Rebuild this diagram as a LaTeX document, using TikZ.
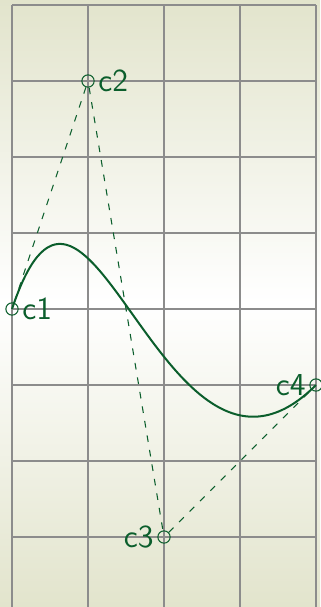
\documentclass[tikz,border=0pt]{standalone}
\definecolor{dkgreen}{HTML}{0B5E2C}
\definecolor{bgolive}{HTML}{E2E4CC}
\tikzset{
  ctrl/.style={circle,draw=dkgreen,thin,inner sep=0pt,minimum size=4.6pt},
  lbl/.style={text=dkgreen,font=\sffamily\fontsize{12}{14}\selectfont,inner sep=1.2pt},
  helper/.style={draw=dkgreen,thin,dash pattern=on 2.5pt off 3pt},
  curve/.style={draw=dkgreen,line width=0.75pt}
}
\begin{document}
\begin{tikzpicture}
\useasboundingbox (-0.158,-3.921) rectangle (4.053,4.066);
\shade[top color=bgolive,bottom color=bgolive,middle color=white] (-0.158,-3.921) rectangle (4.053,4.066);
\draw[gray!90,line width=0.45pt] (0,-4) grid (4,4);
\node[ctrl] (c1) at (0,0) {};
\node[ctrl] (c2) at (1,3) {};
\node[ctrl] (c3) at (2,-3) {};
\node[ctrl] (c4) at (4,-1) {};
\draw[helper] (c1) -- (c2);
\draw[helper] (c2) -- (c3);
\draw[helper] (c3) -- (c4);
\draw[curve] (c1.center) .. controls (c2.center) and (c3.center) .. (c4.center);
\node[lbl,anchor=west] (l1) at (c1.east) {c1};
\node[lbl,anchor=west] (l2) at (c2.east) {c2};
\node[lbl,anchor=east] (l3) at (c3.west) {c3};
\node[lbl,anchor=east] (l4) at (c4.west) {c4};
\end{tikzpicture}
\end{document}
